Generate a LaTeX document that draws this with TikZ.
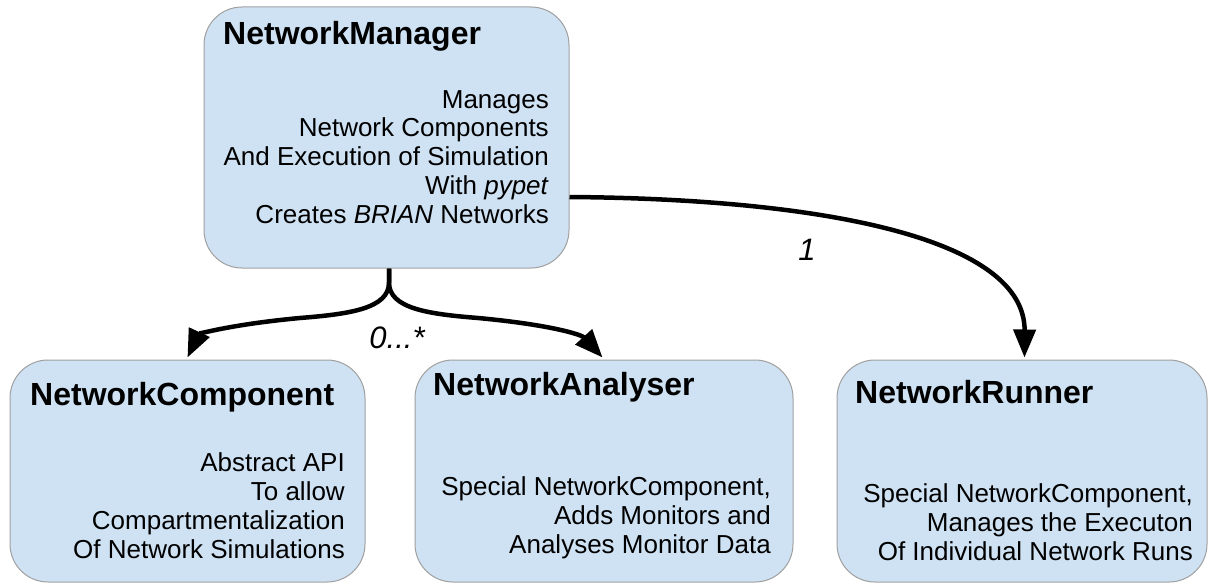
\documentclass[tikz,border=0pt]{standalone}
\usepackage{fontspec}
\setmainfont{Liberation Sans}
\usetikzlibrary{arrows.meta,calc}
\definecolor{boxfill}{HTML}{CFE2F3}
\definecolor{boxline}{HTML}{A0A0A0}
\tikzset{
  box/.style={draw=boxline, line width=1pt, fill=boxfill, rounded corners=38pt, inner sep=0pt},
  ttl/.style={anchor=base west, inner sep=0pt, font=\fontsize{32}{34}\selectfont\bfseries},
  body/.style={anchor=base east, inner sep=0pt, align=right, font=\fontsize{26}{28.7}\selectfont},
  lbl/.style={inner sep=0pt, font=\fontsize{31}{32}\selectfont\itshape},
  conn/.style={line width=4.5pt, -{Triangle[length=28pt,width=22pt]}},
}
\begin{document}
\begin{tikzpicture}[x=1pt,y=-1pt]
\useasboundingbox (0,0) rectangle (1208,583);
% boxes
\node[box, minimum width=365pt, minimum height=261pt] (nm) at (386.5,137.5) {};
\node[box, minimum width=355pt, minimum height=222pt] (nc) at (187.5,471) {};
\node[box, minimum width=378pt, minimum height=222pt] (na) at (604,471) {};
\node[box, minimum width=370pt, minimum height=222pt] (nr) at (1022,471) {};
% titles
\node[ttl] (nmt) at (223,45) {NetworkManager};
\node[ttl] (nct) at (30,405) {NetworkComponent};
\node[ttl] (nat) at (433,395) {NetworkAnalyser};
\node[ttl] (nrt) at (855,403) {NetworkRunner};
% bodies (base anchor = baseline of last line)
\node[body] (nmb) at (549,223) {Manages\\Network Components\\And Execution of Simulation\\With \textit{pypet}\\Creates \textit{BRIAN} Networks};
\node[body] (ncb) at (345,558) {Abstract API\\To allow\\Compartmentalization\\Of Network Simulations};
\node[body] (nab) at (771,553) {Special NetworkComponent,\\Adds Monitors and\\Analyses Monitor Data};
\node[body] (nrb) at (1193,560) {Special NetworkComponent,\\Manages the Executon\\Of Individual Network Runs};
% connectors
\coordinate (stem) at ($(nm.south)+(2.5,0)$);
\coordinate (fork) at ($(stem)+(0,14)$);
\coordinate (ncin) at ($(nc.north west)+(178,-2)$);
\coordinate (nain) at ($(na.north west)+(188,-2)$);
\coordinate (nmout) at ($(nm.east)+(0,59.5)$);
\coordinate (nrin) at ($(nr.north west)+(188,-2)$);
\draw[conn] (stem) -- (fork) .. controls ($(fork)+(0,26)$) and (350,314) .. (300,318)
  .. controls (225,325) and (198,335) .. (ncin);
\draw[conn] (stem) -- (fork) .. controls ($(fork)+(0,26)$) and (428,314) .. (478,318)
  .. controls (553,325) and (582,335) .. (nain);
\draw[conn] (nmout) .. controls (830,199) and (1025,240) .. (nrin);
% labels
\node[lbl] (l0) at (397,338) {0...*};
\node[lbl] (l1) at (807,250) {1};
\end{tikzpicture}
\end{document}
